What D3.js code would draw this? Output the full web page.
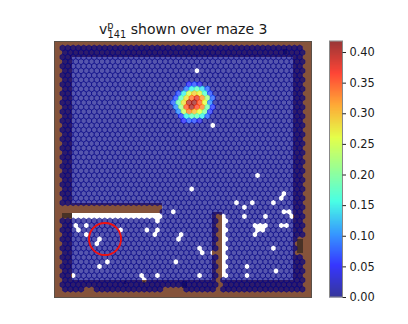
<!DOCTYPE html>
<html><head><meta charset="utf-8">
<script src="https://cdn.jsdelivr.net/npm/d3@7"></script>
<style>html,body{margin:0;padding:0;background:#fff}svg{display:block}text{font-family:"DejaVu Sans";fill:#1a1a1a}</style>
</head><body><svg id="c" width="408" height="324"></svg>
<script>
// ---- data (maze units: 0-257 across, 0-256 down; lattice = row/col of bins) ----
const latticeCols = 46, latticeRows = 54;
const baseline = 0.002;
const colorbarTicks = [0,0.05,0.10,0.15,0.20,0.25,0.30,0.35,0.40];
const vmax = 0.418;
const jetStops = ["#00007f","#0000ff","#007fff","#19ffde","#7cff79","#deff19","#ff9400","#ff1300","#7f0000"];
// peak bins [row, col, value]
const peak = [
 [8,24,.05],[8,25,.07],[8,26,.04],
 [9,23,.09],[9,24,.15],[9,25,.18],[9,26,.14],[9,27,.08],
 [10,22,.07],[10,23,.15],[10,24,.25],[10,25,.29],[10,26,.27],[10,27,.17],[10,28,.07],
 [11,21,.07],[11,22,.18],[11,23,.28],[11,24,.34],[11,25,.38],[11,26,.32],[11,27,.22],[11,28,.08],
 [12,21,.08],[12,22,.19],[12,23,.28],[12,24,.40],[12,25,.41],[12,26,.35],[12,27,.26],[12,28,.10],
 [13,21,.10],[13,22,.22],[13,23,.35],[13,24,.41],[13,25,.36],[13,26,.33],[13,27,.19],[13,28,.06],
 [14,22,.10],[14,23,.24],[14,24,.33],[14,25,.30],[14,26,.26],[14,27,.20],[14,28,.06],
 [15,22,.06],[15,23,.15],[15,24,.18],[15,25,.18],[15,26,.15],[15,27,.08],
 [16,23,.05],[16,24,.08],[16,25,.07],[16,26,.04]
];
// bins with no samples [x, y]
const emptyBins = [
 [142,32],[157,84],[140,149],[205,136],[181,162],[188,167],[196,162],[220,162],[193,175],[213,175],
 [229,153],[227,158],[232,169],[229,171],[234,171],[237,175],[203,184],[208,184],[212,184],[208,187],[205,188],[203,192],
 [227,184],[232,184],[220,205],[193,227],[220,231],[193,236],[145,209],[148,214],[157,214],[145,236],[126,192],
 [119,171],[104,178],[24,186],[22,187],[24,191],[34,183],[34,192],[65,187],[94,187],[104,187],[102,192],
 [126,197],[124,197],[46,197],[43,201],[51,222],[44,227],[123,222],[20,235],[88,235],[90,238],[102,235],[174,236]
];
// regions without bins [x0, x1, y0, y1]
const binGaps = [
 [0,108,164,177],[162,168,175,256],[168,174,173,239],
 [29,40,246,256],[111,132,246,256],[243,250,196,212]
];
// maze layout rectangles [x0, x1, y0, y1]
const floorRect = [18,239,16,239];
const walls = [[0,108,162,172],[158,168,171,256]];
const shadows = [[8,18,172,177],[243,249,198,212],[128,133,240,247],[70,72,240,243],[89,91,240,243],[229,233,8,13]];
const circleAt = [51,198,16];

// ---- scales ----
const svg = d3.select("#c");
const defs = svg.append("defs");
defs.append("filter").attr("id","soft").attr("x",0).attr("y",0).attr("width",1).attr("height",1)
  .append("feGaussianBlur").attr("stdDeviation",.75);
const X = d3.scaleLinear([0,257],[54,311]);
const Y = d3.scaleLinear([0,256],[41,297]);
const colM = d3.scaleLinear([0,latticeCols-1],[8.6,245.7]);
const rowM = d3.scaleLinear([0,latticeRows-1],[7,248.2]);
const stepX = colM(1)-colM(0), stepY = rowM(1)-rowM(0);
const jet = d3.scaleLinear().domain(jetStops.map((_,i)=>i/(jetStops.length-1)*vmax)).range(jetStops).clamp(true);
const cx = (r,c)=> colM(c)+(r%2?stepX/2:0);

// ---- maze ----
const map = svg.append("g").attr("filter","url(#soft)");
const rect=(a,f)=>map.append("rect").attr("x",X(a[0])).attr("y",Y(a[2])).attr("width",X(a[1])-X(a[0])).attr("height",Y(a[3])-Y(a[2])).attr("fill",f);
rect([0,257,0,256],"#85533a");
rect(floorRect,"#ffffff");
walls.forEach(w=>rect(w,"#85533a"));
shadows.forEach(w=>rect(w,"#4a3225"));

// ---- bins ----
const keyOf=(r,c)=>r+"_"+c;
const empty=new Set(emptyBins.map(([x,y])=>{
  const r=Math.round(rowM.invert(y));
  const c=Math.round(colM.invert(x-(r%2?stepX/2:0)));
  return keyOf(r,c);
}));
const val=new Map(peak.map(([r,c,v])=>[keyOf(r,c),v]));
const cells=[];
d3.range(latticeRows).forEach(r=>d3.range(latticeCols).forEach(c=>{
  const x=cx(r,c),y=rowM(r);
  if(empty.has(keyOf(r,c)))return;
  if(binGaps.some(g=>x>=g[0]&&x<=g[1]&&y>=g[2]&&y<=g[3]))return;
  cells.push({x,y,v:val.has(keyOf(r,c))?val.get(keyOf(r,c)):baseline});
}));
const R=3.03;
const hex=d3.range(6).map(i=>{const a=Math.PI/3*i+Math.PI/6;return [R*Math.cos(a),R*Math.sin(a)];});
const hexPath="M"+hex.map(p=>p.map(n=>n.toFixed(2)).join(",")).join("L")+"Z";
map.append("g").selectAll("path").data(cells).join("path")
  .attr("d",hexPath)
  .attr("transform",d=>`translate(${X(d.x)},${Y(d.y)})`)
  .attr("fill",d=>jet(d.v)).attr("fill-opacity",.66)
  .attr("stroke",d=>jet(d.v)).attr("stroke-opacity",.66).attr("stroke-width",.8);

// frame
svg.append("rect").attr("x",54.5).attr("y",41.5).attr("width",257).attr("height",256)
  .attr("fill","none").attr("stroke","#5a5048").attr("stroke-width",1);

// circle
svg.append("circle").attr("cx",X(circleAt[0])).attr("cy",Y(circleAt[1])).attr("r",circleAt[2])
  .attr("fill","none").attr("stroke","#f01010").attr("stroke-width",1.9);

// ---- title ----
const t=svg.append("text").attr("x",99).attr("y",34).attr("font-size",14);
t.append("tspan").text("v");
t.append("tspan").attr("dy",-5.5).attr("font-size",9.8).text("p");
t.append("tspan").attr("dx",-6).attr("dy",9).attr("font-size",9.8).text("141");
t.append("tspan").attr("dx",4.5).attr("dy",-3.5).text("shown over maze 3");

// ---- colorbar ----
const C=d3.scaleLinear([0,vmax],[297,41]);
const cbX=329,cbW=13;
svg.append("g").selectAll("rect").data(d3.range(0,256)).join("rect")
  .attr("x",cbX).attr("width",cbW)
  .attr("y",i=>C((i+1)/256*vmax)).attr("height",i=>C(i/256*vmax)-C((i+1)/256*vmax)+.4)
  .attr("fill",i=>jet((i+.5)/256*vmax)).attr("opacity",.7);
svg.append("rect").attr("x",cbX+.5).attr("y",41).attr("width",cbW).attr("height",256)
  .attr("fill","none").attr("stroke","#888").attr("stroke-width",1);
const ax=d3.axisRight(C).tickValues(colorbarTicks).tickFormat(d3.format(".2f")).tickSize(3.5).tickPadding(3.5);
const ag=svg.append("g").attr("transform",`translate(${cbX+cbW+.5},0)`).call(ax);
ag.select(".domain").remove();
ag.selectAll("line").attr("stroke","#222");
ag.selectAll("text").attr("font-size",11.4).attr("font-family","DejaVu Sans").attr("fill","#1a1a1a");
</script></body></html>
